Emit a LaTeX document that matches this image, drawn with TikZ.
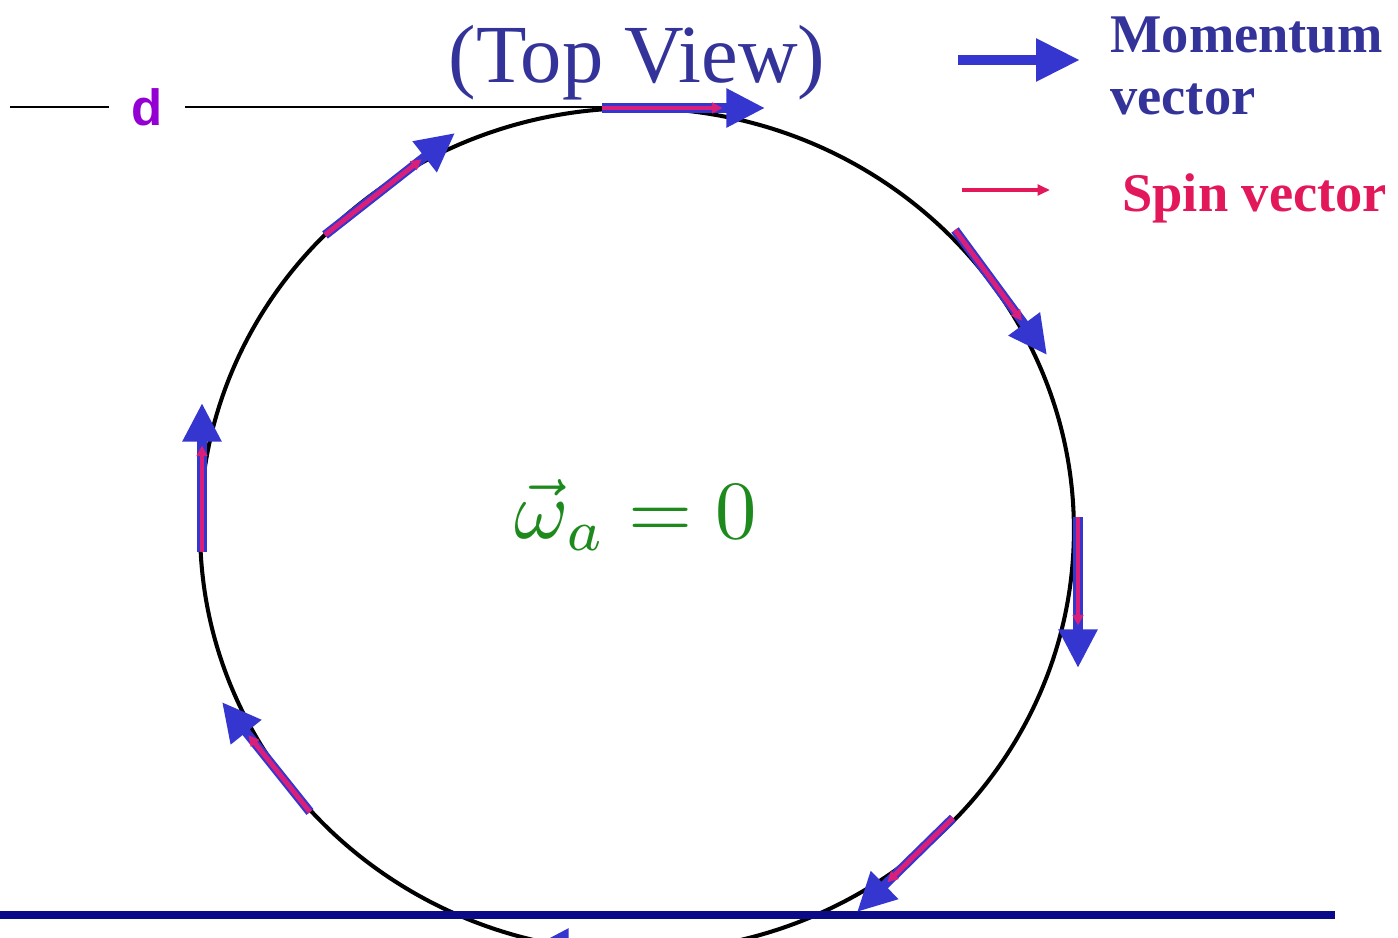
\documentclass[tikz,border=0pt]{standalone}
\usepackage{graphicx}
\usepackage{fontspec}
\setmainfont{Liberation Serif}
\newfontfamily\labelsans{Liberation Sans}
\usetikzlibrary{arrows.meta,calc}

\definecolor{momblue}{HTML}{3535D0}
\definecolor{textblue}{HTML}{33339A}
\definecolor{spinpink}{HTML}{D8207A}
\definecolor{legendpink}{HTML}{E2185A}
\definecolor{floorblue}{HTML}{0B0B88}
\definecolor{omgreen}{HTML}{1E8A1E}
\definecolor{dpurple}{HTML}{9400D3}

\begin{document}
\begin{tikzpicture}[
    x=0.02cm, y=-0.02cm,
    orbit/.style={black, line width=2.3pt},
    momarrow/.style={draw=momblue, line width=5.2pt,
        -{Triangle[length=22pt, width=21pt]}},
    spinarrow/.style={draw=spinpink, line width=2.8pt,
        -{Triangle[length=6pt, width=6pt]}},
    legtext/.style={font=\fontsize{31}{33}\selectfont\bfseries,
        anchor=base west, inner sep=0pt},
]

\def\cx{637}   % ring centre x
\def\cy{530}   % ring centre y

\useasboundingbox (0,0) rectangle (1398,937);
\clip (0,0) rectangle (1398,937);

% ── Reference line with d ───────────────────────────────────
\coordinate (lstart) at (10,107);
\coordinate (ringtop) at (602,107);
\draw[black, line width=1.3pt] (lstart) -- (ringtop);
\node[fill=white, minimum width=1.54cm, minimum height=1.1cm,
      text=dpurple, font=\labelsans\fontsize{29}{30}\selectfont\bfseries]
    (dlab) at (147,107) {d};

% ── Ring ────────────────────────────────────────────────────
\draw[orbit] (\cx,\cy) ellipse [x radius=8.74cm, y radius=8.44cm];

% ── Floor line ──────────────────────────────────────────────
\coordinate (fl) at (0,915);
\coordinate (fr) at (1335,915);
\draw[floorblue, line width=5pt] (fl) -- (fr);

% ── Momentum + spin arrows round the ring ───────────────────
\foreach \n/\xa/\ya/\xb/\yb in {top/602/108/765/108,
        ul/325/235/455/133, ur/955/230/1047/355,
        lf/202/552/202/403, rt/1078/517/1078/668,
        ll/310/812/222/702, lr/953/818/857/912,
        bt/720/948/530/948} {
    \coordinate (\n-s) at (\xa,\ya);
    \coordinate (\n-e) at (\xb,\yb);
    \draw[momarrow] (\n-s) -- (\n-e);
    \draw[spinarrow] (\n-s) -- ($(\n-e)!0.85cm!(\n-s)$);
}

% ── Titles ──────────────────────────────────────────────────
\node[text=textblue, font=\fontsize{47}{49}\selectfont, anchor=base]
    (title) at (637,82) {(Top View)};
\node[text=omgreen, font=\fontsize{10}{12}\selectfont, anchor=base]
    (omega) at (636,538) {\scalebox{4.7}{$\vec{\omega}_a = 0$}};

% ── Legend ──────────────────────────────────────────────────
\coordinate (mom-s) at (958,60);
\coordinate (mom-e) at (1080,60);
\draw[draw=momblue, line width=5.8pt,
      -{Triangle[length=25pt, width=23pt]}] (mom-s) -- (mom-e);
\node[legtext, text=textblue] (mom1) at (1110,52) {Momentum};
\node[legtext, text=textblue] (mom2) at (1110,114) {vector};

\coordinate (spin-s) at (962,190);
\coordinate (spin-e) at (1050,190);
\draw[draw=legendpink, line width=1.8pt,
      -{Triangle[length=7pt, width=6pt]}] (spin-s) -- (spin-e);
\node[legtext, text=legendpink] (spin) at (1122,211) {Spin vector};

\end{tikzpicture}
\end{document}
